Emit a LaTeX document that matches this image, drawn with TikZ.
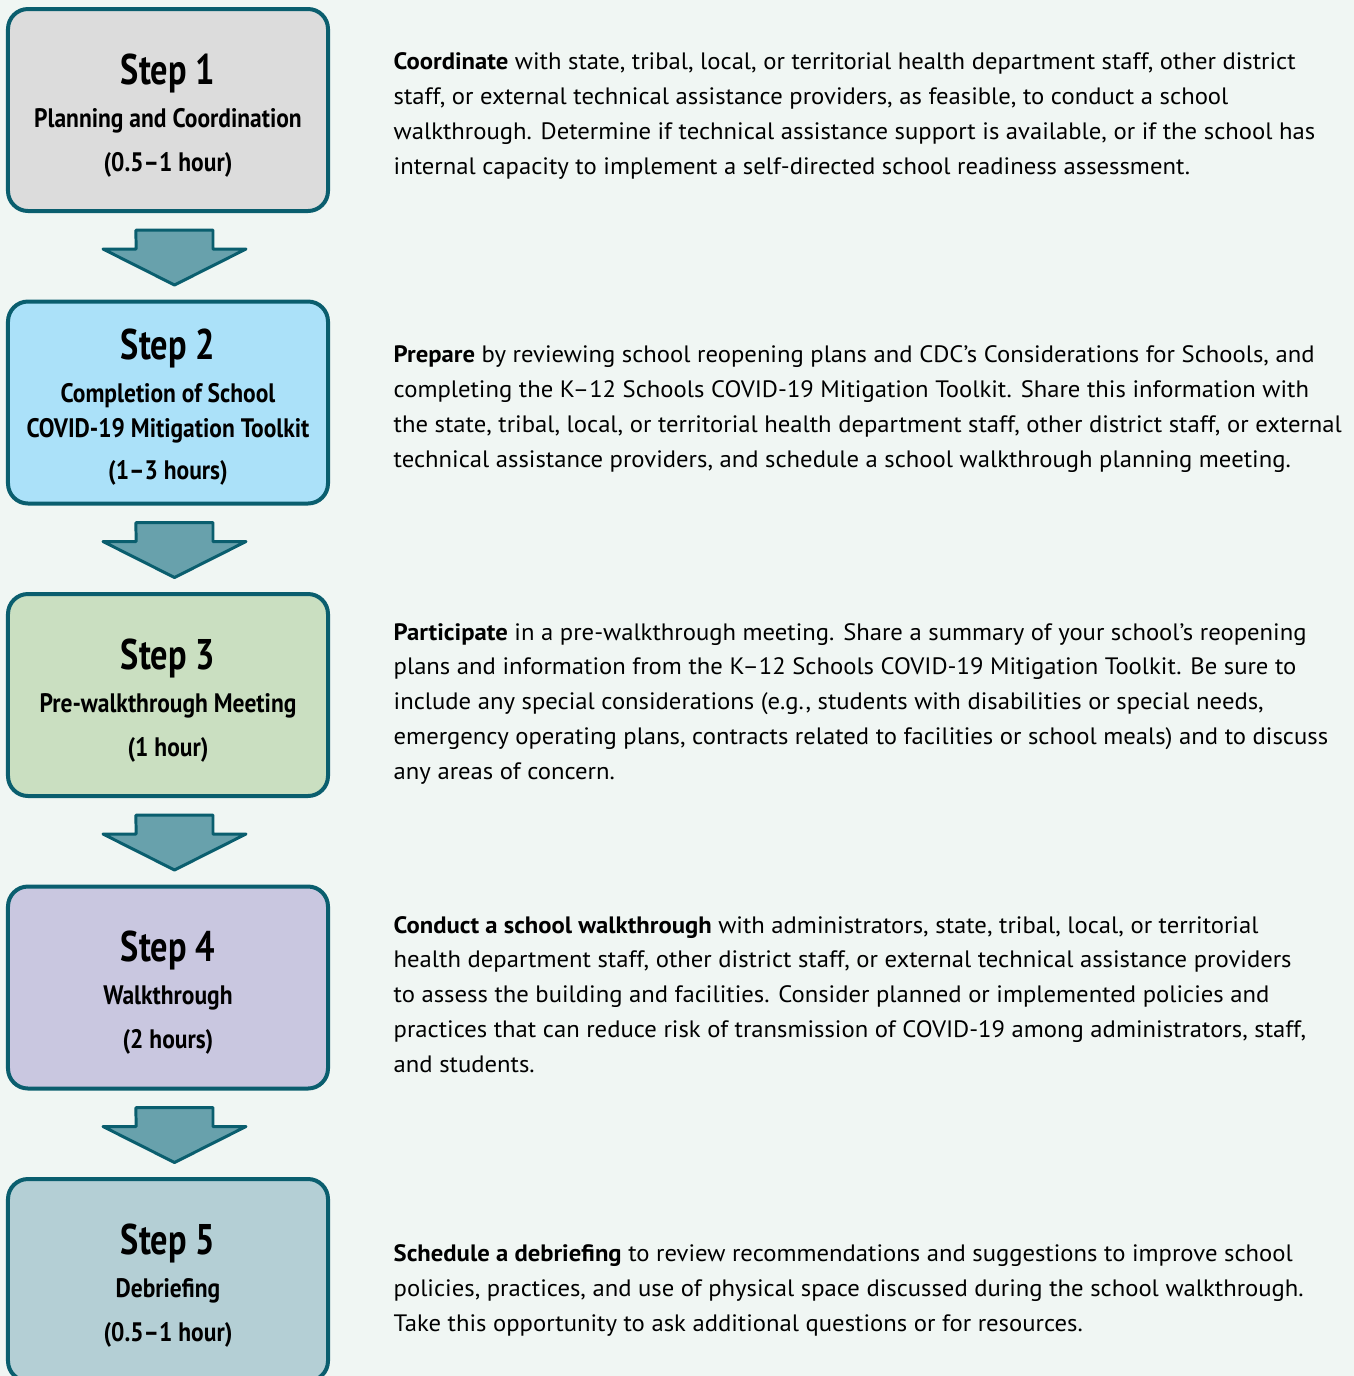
\documentclass[tikz,border=0pt]{standalone}
\usepackage{fontspec}
\setmainfont{PT Sans}
\newfontfamily\condfont[FakeStretch=0.8]{PT Sans}
\newfontfamily\subfont[FakeStretch=0.88]{PT Sans}
\newfontfamily\descfont[FakeStretch=1.04]{PT Sans}

\definecolor{bgmint}{HTML}{F0F6F3}
\definecolor{edgeteal}{HTML}{0A5E6E}
\definecolor{arrowteal}{HTML}{68A1AC}
\definecolor{fillgray}{HTML}{DCDCDC}
\definecolor{fillblue}{HTML}{ABE1F9}
\definecolor{fillgreen}{HTML}{CADFC1}
\definecolor{filllilac}{HTML}{C9C7E0}
\definecolor{fillslate}{HTML}{B4CFD5}

\begin{document}
\begin{tikzpicture}[
  stepbox/.style={draw=edgeteal, line width=0.04cm, rounded corners=0.2cm,
    minimum width=3.2cm, minimum height=2.02cm, outer sep=0pt},
  steptitle/.style={anchor=base, inner sep=0pt,
    font=\condfont\bfseries\fontsize{12.2}{12.2}\selectfont},
  stepsub/.style={anchor=base, inner sep=0pt, align=center,
    font=\subfont\bfseries\fontsize{7.6}{9.96}\selectfont},
  stepdesc/.style={anchor=base west, inner sep=0pt, align=left,
    font=\descfont\fontsize{6.75}{9.87}\selectfont},
  stepflow/.style={draw=edgeteal, fill=arrowteal, line width=0.03cm, line join=round}
]
  \fill[bgmint] (0,0) rectangle (13.54,-13.76);
  \useasboundingbox (0,0) rectangle (13.54,-13.76);

  % the five steps
  \node[stepbox, fill=fillgray]  (planning) at (1.68,-1.10) {};
  \node[stepbox, fill=fillblue]  (toolkit)  at (1.68,-4.025) {};
  \node[stepbox, fill=fillgreen] (meeting)  at (1.68,-6.95) {};
  \node[stepbox, fill=filllilac] (walk)     at (1.68,-9.875) {};
  \node[stepbox, fill=fillslate] (debrief)  at (1.68,-12.80) {};

  \node[steptitle] (planning-t) at (1.68,-0.84) {Step 1};
  \node[stepsub]   (planning-s) at (1.68,-1.27) {Planning and Coordination};
  \node[stepsub]   (planning-h) at (1.68,-1.71) {(0.5–1 hour)};

  \node[steptitle] (toolkit-t) at (1.68,-3.59) {Step 2};
  \node[stepsub]   (toolkit-s) at (1.68,-4.37) {Completion of School\\COVID-19 Mitigation Toolkit};
  \node[stepsub]   (toolkit-h) at (1.68,-4.79) {(1–3 hours)};

  \node[steptitle] (meeting-t) at (1.68,-6.69) {Step 3};
  \node[stepsub]   (meeting-s) at (1.68,-7.12) {Pre-walkthrough Meeting};
  \node[stepsub]   (meeting-h) at (1.68,-7.56) {(1 hour)};

  \node[steptitle] (walk-t) at (1.68,-9.615) {Step 4};
  \node[stepsub]   (walk-s) at (1.68,-10.045) {Walkthrough};
  \node[stepsub]   (walk-h) at (1.68,-10.485) {(2 hours)};

  \node[steptitle] (debrief-t) at (1.68,-12.54) {Step 5};
  \node[stepsub]   (debrief-s) at (1.68,-12.97) {Debriefing};
  \node[stepsub]   (debrief-h) at (1.68,-13.41) {(0.5–1 hour)};

  % arrows between the boxes
  \foreach \from in {planning,toolkit,meeting,walk}
    \draw[stepflow] ([xshift=-0.32cm,yshift=-0.19cm]\from.south)
      -- ++(0.77,0) -- ++(0,-0.19) -- ++(0.33,0) -- ++(-0.715,-0.36)
      -- ++(-0.715,0.36) -- ++(0.33,0) -- cycle;

  % descriptions
  \node[stepdesc] (planning-d) at (3.93,-1.74) {\textbf{Coordinate} with state, tribal, local, or territorial health department staff, other district\\
staff, or external technical assistance providers, as feasible, to conduct a school\\
walkthrough. Determine if technical assistance support is available, or if the school has\\
internal capacity to implement a self-directed school readiness assessment.};

  \node[stepdesc] (toolkit-d) at (3.93,-4.67) {\textbf{Prepare} by reviewing school reopening plans and CDC’s Considerations for Schools, and\\
completing the K–12 Schools COVID-19 Mitigation Toolkit. Share this information with\\
the state, tribal, local, or territorial health department staff, other district staff, or external\\
technical assistance providers, and schedule a school walkthrough planning meeting.};

  \node[stepdesc] (meeting-d) at (3.93,-7.79) {\textbf{Participate} in a pre-walkthrough meeting. Share a summary of your school’s reopening\\
plans and information from the K–12 Schools COVID-19 Mitigation Toolkit. Be sure to\\
include any special considerations (e.g., students with disabilities or special needs,\\
emergency operating plans, contracts related to facilities or school meals) and to discuss\\
any areas of concern.};

  \node[stepdesc] (walk-d) at (3.93,-10.72) {\textbf{Conduct a school walkthrough} with administrators, state, tribal, local, or territorial\\
health department staff, other district staff, or external technical assistance providers\\
to assess the building and facilities. Consider planned or implemented policies and\\
practices that can reduce risk of transmission of COVID-19 among administrators, staff,\\
and students.};

  \node[stepdesc] (debrief-d) at (3.93,-13.31) {\textbf{Schedule a debriefing} to review recommendations and suggestions to improve school\\
policies, practices, and use of physical space discussed during the school walkthrough.\\
Take this opportunity to ask additional questions or for resources.};
\end{tikzpicture}
\end{document}
